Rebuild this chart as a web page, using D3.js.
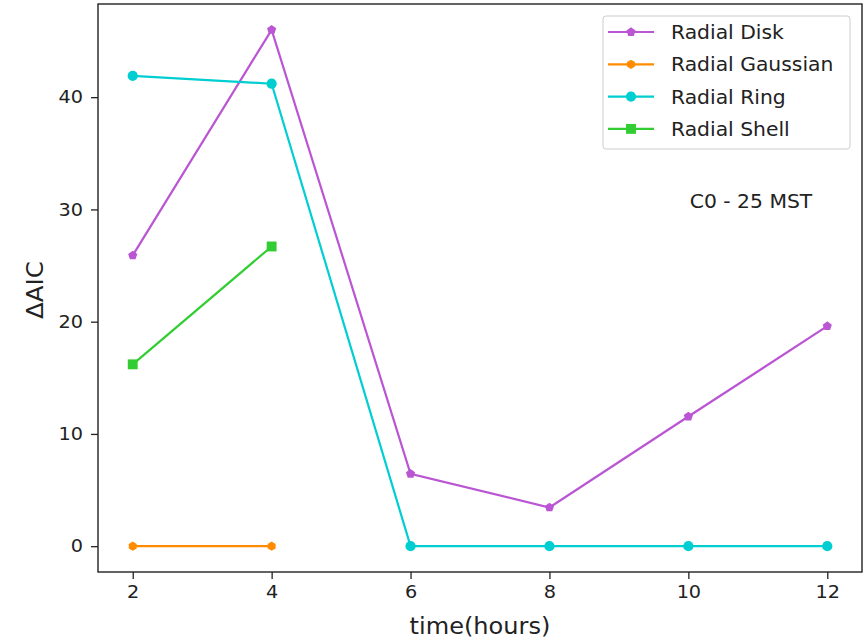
<!DOCTYPE html>
<html><head><meta charset="utf-8">
<script src="https://cdn.jsdelivr.net/npm/d3@7"></script>
<style>body{margin:0;background:#fff}svg{display:block}text{font-family:"DejaVu Sans",sans-serif;fill:#222}</style>
</head><body>
<svg id="c" width="866" height="640"></svg>
<script>
const hours = [2, 4, 6, 8, 10, 12];
const radialDisk = [25.9, 46.0, 6.45, 3.45, 11.55, 19.6];
const radialGaussian = [0, 0, null, null, null, null];
const radialRing = [41.9, 41.2, 0, 0, 0, 0];
const radialShell = [16.2, 26.7, null, null, null, null];
const seriesNames = ["Radial Disk", "Radial Gaussian", "Radial Ring", "Radial Shell"];
const seriesColors = ["#BA55D3", "#FF8C00", "#00CED1", "#32CD32"];
const seriesMarkers = ["pentagon", "hexagon", "circle", "square"];
const xTicks = [2, 4, 6, 8, 10, 12];
const yTicks = [0, 10, 20, 30, 40];

const SX = 1.07; // horizontal stretch of text in reference
const svg = d3.select("#c");
const L = 98, R = 862, T = 4, B = 572;
const x = d3.scaleLinear().domain([1.5, 12.5]).range([L, R]);
const y = d3.scaleLinear().domain([-2.3, 48.3]).range([B, T]);

function polyPath(n, r, rot) {
  const pts = d3.range(n).map(i => {
    const a = rot + i * 2 * Math.PI / n;
    return [r * Math.cos(a), r * Math.sin(a)];
  });
  return "M" + pts.map(p => p.join(",")).join("L") + "Z";
}
const markerPath = {
  pentagon: polyPath(5, 4.8, -Math.PI / 2),
  hexagon: polyPath(6, 4.6, -Math.PI / 2),
  circle: d3.symbol(d3.symbolCircle, 82)(),
  square: polyPath(4, 7, Math.PI / 4)
};

const all = [radialDisk, radialGaussian, radialRing, radialShell];
const data = all.map((vals, i) => ({
  name: seriesNames[i], color: seriesColors[i], marker: seriesMarkers[i],
  pts: hours.map((h, j) => ({ h, v: vals[j] })).filter(d => d.v !== null)
}));

const line = d3.line().x(d => x(d.h)).y(d => y(d.v));
const g = svg.append("g");
data.forEach(s => {
  g.append("path").attr("d", line(s.pts)).attr("fill", "none")
    .attr("stroke", s.color).attr("stroke-width", 2.2);
  g.selectAll(null).data(s.pts).enter().append("path")
    .attr("d", markerPath[s.marker])
    .attr("transform", d => `translate(${x(d.h)},${y(d.v)})`)
    .attr("fill", s.color);
});

// axes
const xa = svg.append("g").attr("transform", `translate(0,${B})`)
  .call(d3.axisBottom(x).tickValues(xTicks).tickSize(7).tickPadding(6).tickSizeOuter(0));
const ya = svg.append("g").attr("transform", `translate(${L},0)`)
  .call(d3.axisLeft(y).tickValues(yTicks).tickSize(7).tickPadding(7).tickSizeOuter(0));
[xa, ya].forEach(a => {
  a.select(".domain").remove();
  a.selectAll("line").attr("stroke", "#222").attr("stroke-width", 1.3);
  a.selectAll("text").style("font-size", "18px").style("font-family", "DejaVu Sans")
    .attr("fill", "#222").attr("transform", `scale(${SX},1)`);
});
svg.append("rect").attr("x", L).attr("y", T).attr("width", R - L).attr("height", B - T)
  .attr("fill", "none").attr("stroke", "#222").attr("stroke-width", 1.4);

function stxt(px, py, str, size, anchor, rot) {
  return svg.append("text")
    .attr("transform", `translate(${px},${py})` + (rot ? ` rotate(${rot})` : "") + ` scale(${SX},1)`)
    .attr("text-anchor", anchor).style("font-size", size + "px").text(str);
}
stxt((L + R) / 2, 634, "time(hours)", 22.5, "middle");
stxt(43, 290, "ΔAIC", 23, "middle", -90);
stxt(751, 208, "C0 - 25 MST", 19, "middle");

// legend
const lg = svg.append("g");
lg.append("rect").attr("x", 603).attr("y", 16).attr("width", 247).attr("height", 133)
  .attr("rx", 3).attr("fill", "#fff").attr("fill-opacity", 0.8)
  .attr("stroke", "#ccc").attr("stroke-width", 1);
data.forEach((s, i) => {
  const yy = 32 + i * 32.3;
  lg.append("line").attr("x1", 608).attr("x2", 654).attr("y1", yy).attr("y2", yy)
    .attr("stroke", s.color).attr("stroke-width", 2.2);
  lg.append("path").attr("d", markerPath[s.marker]).attr("transform", `translate(631,${yy})`).attr("fill", s.color);
  stxt(671, yy + 7, s.name, 19, "start");
});
</script>
</body></html>
